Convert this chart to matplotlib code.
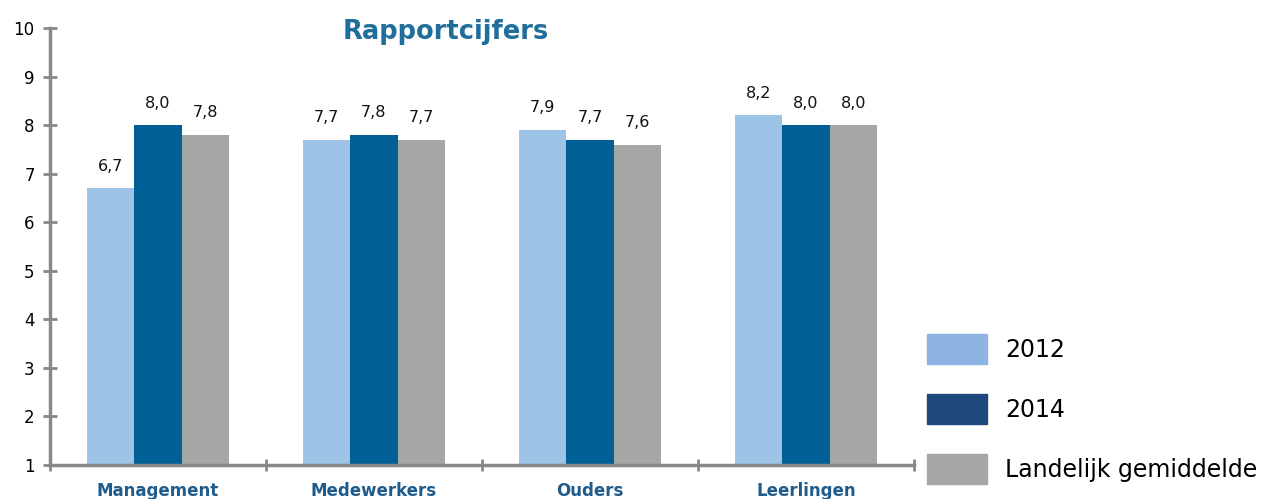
import matplotlib
matplotlib.use("Agg")
import matplotlib.pyplot as plt
import numpy as np

categories = ["Management", "Medewerkers", "Ouders", "Leerlingen"]
series_names = ["2012", "2014", "Landelijk gemiddelde"]
v2012 = [6.7, 7.7, 7.9, 8.2]
v2014 = [8.0, 7.8, 7.7, 8.0]
vland = [7.8, 7.7, 7.6, 8.0]
yticks = list(range(1, 11))

bar_colors = ["#9DC3E6", "#005F94", "#A6A6A6"]
legend_colors = ["#8EB4E3", "#1F497D", "#A6A6A6"]

W, H = 1267, 499
fig = plt.figure(figsize=(W / 100, H / 100), dpi=100)
ax = fig.add_axes([50 / W, (H - 465) / H, (914 - 50) / W, (465 - 28) / H])

x = np.arange(len(categories))
bw = 0.219
offsets = [-bw, 0, bw]
handles = []
for vals, off, c, lc, name in zip([v2012, v2014, vland], offsets, bar_colors, legend_colors, series_names):
    bars = ax.bar(x + off, np.array(vals) - 1, bottom=1, width=bw, color=c, zorder=2)
    for b, v in zip(bars, vals):
        ax.text(b.get_x() + b.get_width() / 2, v + 0.3, f"{v:.1f}".replace(".", ","),
                ha="center", va="bottom", fontsize=11.5, color="#111111")
    handles.append(plt.Rectangle((0, 0), 1, 1, color=lc, label=name))

ax.set_xlim(-0.5, len(categories) - 0.5)
ax.set_ylim(1, 10)
ax.set_yticks(yticks)
ax.set_yticklabels([str(t) for t in yticks], fontsize=12)
ax.set_xticks(x)
ax.set_xticklabels(categories, fontsize=12, fontweight="bold", color="#1F5C8B")
ax.set_xticks(np.arange(-0.5, len(categories)), minor=True)
ax.tick_params(axis="x", which="major", length=0, pad=12)
ax.tick_params(axis="x", which="minor", length=8, direction="inout", color="#888888", width=2)
ax.tick_params(axis="y", length=10, direction="inout", color="#888888", width=2, pad=6)

for s in ["top", "right"]:
    ax.spines[s].set_visible(False)
for s in ["left", "bottom"]:
    ax.spines[s].set_color("#888888")
    ax.spines[s].set_linewidth(2.5)

ax.set_title("Rapportcijfers", fontsize=18.5, fontweight="bold", color="#1F6E9C", x=0.458, y=0.955)

fig.legend(handles=handles, loc="upper left", bbox_to_anchor=(906 / W, (H - 313) / H),
           frameon=False, fontsize=17, handlelength=2.54, handleheight=1.58,
           labelspacing=1.27, handletextpad=0.76)

fig.savefig("out.png", dpi=100)
